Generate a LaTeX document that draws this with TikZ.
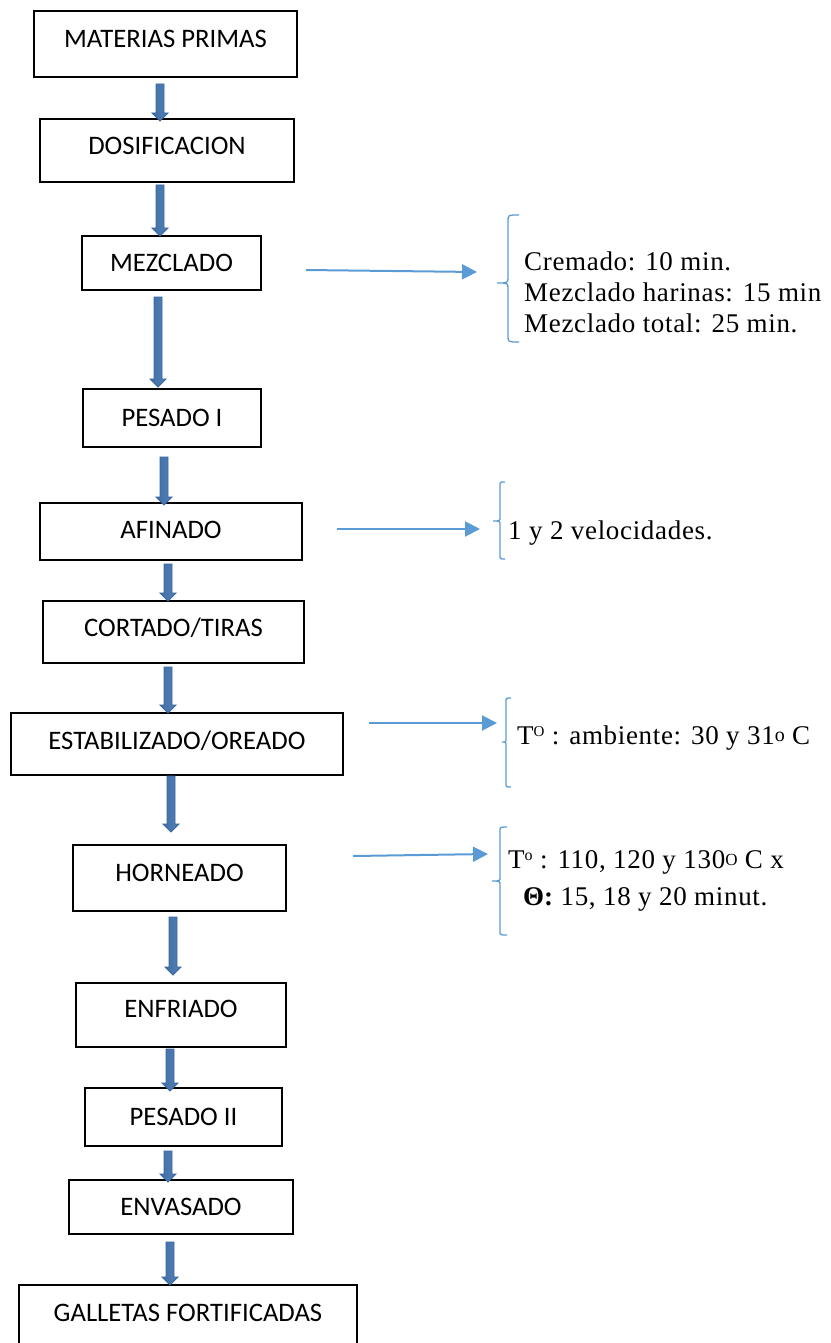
\documentclass[tikz,border=0pt]{standalone}
\usepackage{fontspec}
\setmainfont{Carlito}
\newfontfamily\notefont[LetterSpace=2.5]{Liberation Serif}
\newfontfamily\grk{Liberation Serif}
\usetikzlibrary{arrows.meta,calc}

% serif face for the side notes
\newcommand\pal{\notefont\fontsize{27}{31}\selectfont}

\definecolor{flowfill}{HTML}{4F81BD}
\definecolor{flowdark}{HTML}{3A679C}
\definecolor{flowlight}{HTML}{7EA4D3}
\definecolor{notecol}{HTML}{5B9BD5}

\tikzset{
  stepbox/.style={draw=black, line width=1.2pt, rectangle, inner sep=0pt,
    font=\fontsize{26.7}{26.7}\selectfont, text height=16.9pt, text depth=0pt},
  flow/.style={draw=flowdark, line width=0.8pt, line join=miter,
    left color=flowfill!85!black, middle color=flowlight, right color=flowfill,
    to path={($(\tikztostart)+(-4pt,0)$) -- ($(\tikztostart)+(4pt,0)$)
      -- ($(\tikztotarget)+(4pt,8pt)$) -- ($(\tikztotarget)+(8pt,8pt)$)
      -- (\tikztotarget) -- ($(\tikztotarget)+(-8pt,8pt)$)
      -- ($(\tikztotarget)+(-4pt,8pt)$) -- cycle}},
  note/.style={draw=notecol, line width=2pt, -{Triangle[length=15pt,width=15pt]}},
  bracket/.style={draw=notecol, line width=1.3pt},
  notetext/.style={anchor=base west, inner sep=0pt, font=\pal}
}

\begin{document}
\begin{tikzpicture}[x=1pt, y=-1pt]
\useasboundingbox (0,0) rectangle (830,1343);
\clip (0,0) rectangle (830,1343);

% process steps
\node[stepbox, minimum width=263pt, minimum height=66pt, text depth=9pt]  (mp)  at (165.5,44)   {MATERIAS PRIMAS};
\node[stepbox, minimum width=254pt, minimum height=63pt, text depth=8pt]  (dos) at (167,150.5)  {DOSIFICACION};
\node[stepbox, minimum width=179pt, minimum height=54pt]                  (mez) at (171.5,263)  {MEZCLADO};
\node[stepbox, minimum width=178pt, minimum height=58pt]                  (pe1) at (172,418)    {PESADO I};
\node[stepbox, minimum width=262pt, minimum height=57pt, text depth=2pt]  (afi) at (171,531.5)  {AFINADO};
\node[stepbox, minimum width=261pt, minimum height=62pt, text depth=7pt]  (cor) at (173.5,632)  {CORTADO/TIRAS};
\node[stepbox, minimum width=332pt, minimum height=62pt, text depth=6pt]  (est) at (177,744)    {ESTABILIZADO/OREADO};
\node[stepbox, minimum width=213pt, minimum height=66pt, text depth=10pt] (hor) at (179.5,878)  {HORNEADO};
\node[stepbox, minimum width=210pt, minimum height=64pt, text depth=11pt] (enf) at (181,1015)   {ENFRIADO};
\node[stepbox, minimum width=197pt, minimum height=58pt]                  (pe2) at (183.5,1117) {PESADO II};
\node[stepbox, minimum width=224pt, minimum height=54pt]                  (env) at (181,1207)   {ENVASADO};
\node[stepbox, minimum width=338pt, minimum height=65pt, text depth=8pt]  (gal) at (188,1317.5) {GALLETAS FORTIFICADAS};

% block arrows between steps
\coordinate (a1s) at (160,84);   \coordinate (a1e) at (160,121);
\coordinate (a2s) at (160,185);  \coordinate (a2e) at (160,236);
\coordinate (a3s) at (158,297);  \coordinate (a3e) at (158,387);
\coordinate (a4s) at (164,457);  \coordinate (a4e) at (164,505);
\coordinate (a5s) at (168,564);  \coordinate (a5e) at (168,601);
\coordinate (a6s) at (168,667);  \coordinate (a6e) at (168,713);
\coordinate (a7s) at (171,776);  \coordinate (a7e) at (171,832);
\coordinate (a8s) at (173,917);  \coordinate (a8e) at (173,975);
\coordinate (a9s) at (170,1049); \coordinate (a9e) at (170,1091);
\coordinate (a10s) at (168,1151); \coordinate (a10e) at (168,1182);
\coordinate (a11s) at (170,1242); \coordinate (a11e) at (170,1285);
\foreach \i in {1,...,11} \path[flow] (a\i s) to (a\i e);

% side notes: arrows, brackets and texts
\coordinate (n1s) at (306,270); \coordinate (n1e) at (477,272);
\coordinate (n2s) at (337,529); \coordinate (n2e) at (480,529);
\coordinate (n3s) at (369,723); \coordinate (n3e) at (497,723);
\coordinate (n4s) at (353,856); \coordinate (n4e) at (488,854);
\draw[note] (n1s) -- (n1e);
\draw[note] (n2s) -- (n2e);
\draw[note] (n3s) -- (n3e);
\draw[note] (n4s) -- (n4e);

\draw[bracket] (519,215) .. controls (508,215) .. (508,221) -- (508,277)
  .. controls (508,283) .. (497,283) .. controls (508,283) .. (508,289)
  -- (508,336) .. controls (508,342) .. (519,342);
\draw[bracket] (505,482) .. controls (500,482) .. (500,486) -- (500,517)
  .. controls (500,521) .. (493,521) .. controls (500,521) .. (500,525)
  -- (500,555) .. controls (500,559) .. (505,559);
\draw[bracket] (511,698) .. controls (506,698) .. (506,702) -- (506,738)
  .. controls (506,742) .. (502,742) .. controls (506,742) .. (506,746)
  -- (506,783) .. controls (506,787) .. (511,787);
\draw[bracket] (507,827) .. controls (500,827) .. (500,831) -- (500,877)
  .. controls (500,881) .. (492,881) .. controls (500,881) .. (500,885)
  -- (500,931) .. controls (500,935) .. (507,935);

\node[notetext] (m1) at (524,270) {Cremado: 10 min.};
\node[notetext] (m2) at (524,301) {Mezclado harinas: 15 min};
\node[notetext] (m3) at (524,332) {Mezclado total: 25 min.};
\node[notetext] (v1) at (508,539) {1 y 2 velocidades.};
\node[notetext] (t1) at (517,744) {T\raisebox{8pt}{\fontsize{15}{15}\selectfont O} : ambiente: 30 y 31\raisebox{3pt}{\fontsize{20}{20}\selectfont o} C};
\node[notetext] (h1) at (508,868) {T\raisebox{7.3pt}{\fontsize{16}{16}\selectfont o} : 110, 120 y 130\raisebox{3pt}{\fontsize{17}{17}\selectfont O} C x};
\node[notetext] (h2) at (523,905) {{\grk\bfseries\fontsize{27}{31}\selectfont Θ:} 15, 18 y 20 minut.};
\end{tikzpicture}
\end{document}
